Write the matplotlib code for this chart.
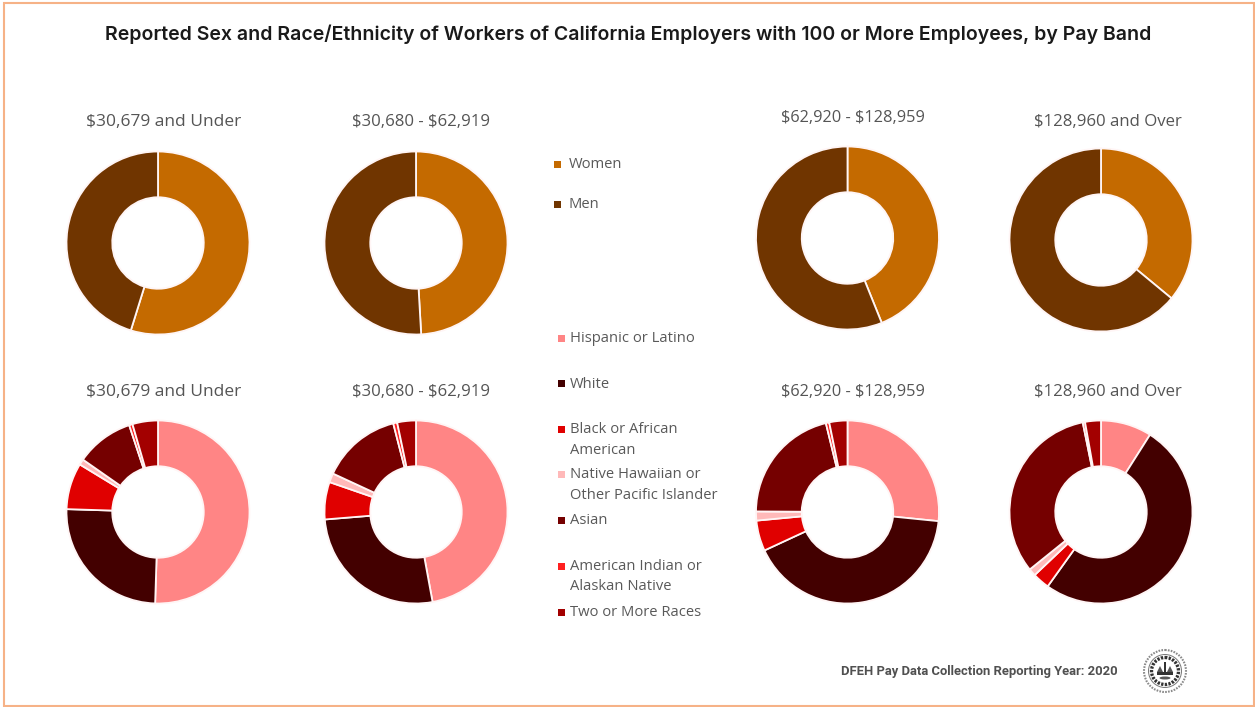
import numpy as np
import matplotlib
matplotlib.use("Agg")
import matplotlib.pyplot as plt
from matplotlib.patches import Circle, Rectangle, Polygon, Ellipse

W, H = 1255, 707

TITLE = "Reported Sex and Race/Ethnicity of Workers of California Employers with 100 or More Employees, by Pay Band"
FOOTER = "DFEH Pay Data Collection Reporting Year: 2020"
pay_bands = [r"\$30,679 and Under", r"\$30,680 - \$62,919", r"\$62,920 - \$128,959", r"\$128,960 and Over"]

sex_labels = ["Women", "Men"]
sex_colors = ["#C46A00", "#703500"]
women = [54.8, 49.1, 43.9, 36.0]
men = [45.2, 50.9, 56.1, 64.0]

race_labels = ["Hispanic or Latino", "White", "Black or African\nAmerican",
               "Native Hawaiian or\nOther Pacific Islander", "Asian",
               "American Indian or\nAlaskan Native", "Two or More Races"]
race_colors = ["#FF8585", "#430000", "#E00000", "#FFB9B9", "#750000", "#FF2020", "#A30000"]
hispanic = [50.5, 47.1, 26.6, 9.0]
white = [25.0, 26.6, 41.5, 50.9]
black = [8.2, 6.6, 5.4, 3.0]
pacific = [1.0, 1.6, 1.6, 1.3]
asian = [10.2, 14.1, 21.1, 32.6]
native = [0.6, 0.7, 0.6, 0.4]
multi = [4.5, 3.3, 3.2, 2.8]

fig = plt.figure(figsize=(W / 100, H / 100), dpi=100, facecolor="white")
canvas = fig.add_axes([0, 0, 1, 1])
canvas.set_xlim(0, W)
canvas.set_ylim(H, 0)
canvas.axis("off")

# Outer frame
canvas.add_patch(Rectangle((4, 2.5), 1249.5, 703, fill=False, ec="#F6B287", lw=1.5, zorder=1))

canvas.text(628.5, 34.5, TITLE, ha="center", va="center", fontsize=14.05, fontweight="semibold",
            family="Inter", color="#1A1A1A")


def donut(cx, cy, values, colors):
    r = 91.5
    ax = fig.add_axes([(cx - r - 2) / W, 1 - (cy + r + 2) / H, (2 * r + 4) / W, (2 * r + 4) / H])
    ax.pie(values, colors=colors, startangle=90, counterclock=False, radius=1.0,
           wedgeprops=dict(width=0.5, edgecolor="#FFF5F5", linewidth=1.3))
    ax.set_xlim(-(r + 2) / r, (r + 2) / r)
    ax.set_ylim(-(r + 2) / r, (r + 2) / r)
    ax.set_aspect("equal")


sex_centers = [(158, 243), (416, 243), (847.5, 238), (1101, 240)]
sex_title_pos = [(164, 122.5), (421, 122.5), (853, 118), (1107.5, 121.5)]
race_centers = [(158, 512), (416, 512), (847.5, 512), (1101, 512)]
race_title_pos = [(164, 392.5), (421, 392.5), (853, 392.5), (1107.5, 392.5)]
title_sizes = [12.5, 12.1, 11.8, 12.1]

for i in range(4):
    donut(*sex_centers[i], [women[i], men[i]], sex_colors)
    donut(*race_centers[i],
          [hispanic[i], white[i], black[i], pacific[i], asian[i], native[i], multi[i]],
          race_colors)
    canvas.text(*sex_title_pos[i], pay_bands[i], ha="center", va="center", fontsize=title_sizes[i],
                family="Open Sans", fontweight="medium", color="#555555")
    canvas.text(*race_title_pos[i], pay_bands[i], ha="center", va="center", fontsize=title_sizes[i],
                family="Open Sans", fontweight="medium", color="#555555")


def legend_entry(x, y, label, color, dx):
    canvas.add_patch(Rectangle((x - 3.5, y - 3.5), 7, 7, fc=color, ec="none"))
    canvas.text(x + dx, y - 7, label, ha="left", va="top", fontsize=10.6, family="Open Sans",
                color="#595959", linespacing=1.5)


legend_entry(557.5, 164, sex_labels[0], sex_colors[0], 11)
legend_entry(557.5, 204, sex_labels[1], sex_colors[1], 11)
race_legend_y = [338.5, 383.5, 429, 474.5, 520.5, 566, 612.5]
for lab, col, yy in zip(race_labels, race_colors, race_legend_y):
    legend_entry(561, yy, lab, col, 9)

canvas.text(841, 672, FOOTER, ha="left", va="center", fontsize=9.35, fontweight="bold",
            family="Roboto", color="#505050")

# State seal beside the footer
sx, sy = 1165, 671
seal_ink = "#333333"
canvas.add_patch(Circle((sx, sy), 21, fill=False, ec="#8A8A8A", lw=1.5, ls=(0, (0.8, 0.6))))
canvas.add_patch(Circle((sx, sy), 16.5, fill=False, ec="#777777", lw=0.7))
canvas.add_patch(Circle((sx, sy), 13.5, fill=False, ec=seal_ink, lw=2.4, ls=(0, (0.7, 0.4))))
canvas.add_patch(Rectangle((sx - 8, sy + 1), 16, 3, fc=seal_ink, ec="none"))
canvas.add_patch(Polygon([(sx - 8, sy + 1), (sx - 5, sy - 5), (sx - 2, sy + 1)], fc="#555555", ec="none"))
canvas.add_patch(Polygon([(sx + 8, sy + 1), (sx + 5, sy - 5), (sx + 2, sy + 1)], fc="#555555", ec="none"))
canvas.add_patch(Rectangle((sx - 0.8, sy - 9), 1.6, 11, fc=seal_ink, ec="none"))
canvas.add_patch(Ellipse((sx, sy + 7), 11, 3, fc="#5A5A5A", ec="none"))

fig.savefig("out.png", dpi=100, facecolor="white")
